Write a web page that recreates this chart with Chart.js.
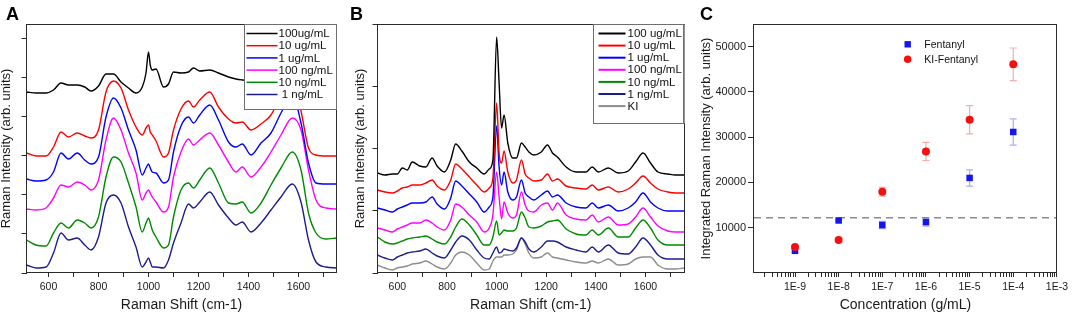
<!DOCTYPE html>
<html lang="en">
<head>
<meta charset="UTF-8">
<title>SERS spectra of fentanyl and integrated intensity</title>
<script src="https://cdn.jsdelivr.net/npm/chart.js"></script>
<style>
    html, body { margin: 0; padding: 0; background: #fff; }
    #wrap { position: relative; width: 1072px; height: 317px; overflow: hidden; background: #fff; }
    canvas { position: absolute; top: 0; }
</style>
</head>
<body>
<div id="wrap">
    <canvas id="chartA" width="345" height="317" style="left:0px"></canvas>
    <canvas id="chartB" width="353" height="317" style="left:345px"></canvas>
    <canvas id="chartC" width="374" height="317" style="left:698px"></canvas>
</div>
<script>
// ---------- panel A: spectra of fentanyl dilutions (offset, arb. units) ----------
const shiftA = [512, 550, 590, 620, 650, 680, 715, 745, 770, 800, 830, 860, 890, 920, 950, 975, 990, 1000, 1007, 1015,
    1030, 1060, 1080, 1100, 1130, 1160, 1180, 1205, 1245, 1280, 1320, 1350, 1375, 1410, 1450, 1490, 1530, 1575, 1610,
    1640, 1670, 1710, 1752];
const a100ug = [181, 180, 180, 183, 190, 188, 188, 186, 182, 187, 199, 199, 191, 185, 180, 186, 200, 221, 208, 203,
    204, 186, 189, 201, 200, 201, 205, 202, 203, 200, 196, 194, 193, 192, 191, 193, 197, 205, 200, 190, 188, 188, 188];
const a10ug = [120, 117, 117, 126, 141, 136, 140, 137, 135, 143, 181, 192, 185, 163, 146, 138, 145, 148, 141, 138,
    132, 116, 120, 143, 164, 172, 166, 173, 181, 166, 154, 150, 151, 143, 149, 158, 178, 195, 162, 125, 118, 117, 117];
const a1ug = [94, 92, 93, 101, 120, 114, 120, 113, 109, 116, 156, 175, 165, 143, 123, 98, 105, 109, 105, 101,
    100, 90, 93, 121, 147, 156, 150, 158, 168, 153, 131, 126, 129, 118, 130, 140, 160, 178, 150, 110, 90, 89, 89];
const a100ng = [64, 63, 65, 75, 88, 86, 91, 88, 83, 93, 133, 155, 143, 120, 100, 73, 80, 83, 80, 76,
    71, 61, 66, 96, 121, 134, 128, 133, 140, 128, 111, 101, 106, 96, 106, 121, 138, 155, 143, 103, 73, 65, 64];
const a10ng = [33, 28, 27, 40, 50, 45, 53, 50, 45, 56, 96, 116, 111, 90, 66, 41, 50, 55, 50, 43,
    36, 25, 28, 56, 83, 90, 85, 93, 105, 90, 70, 69, 71, 60, 70, 88, 105, 121, 103, 60, 40, 34, 35];
const a1ng = [8, 5, 6, 20, 40, 33, 35, 28, 23, 36, 70, 78, 70, 46, 26, 6, 11, 15, 11, 6,
    6, 5, 13, 30, 50, 69, 65, 71, 81, 68, 55, 48, 51, 41, 50, 63, 76, 89, 71, 33, 11, 6, 5];
const labelsA = ['100ug/mL', '10 ug/mL', '1 ug/mL', '100 ng/mL', '10 ng/mL', ' 1 ng/mL'];

// ---------- panel B: spectra with KI added ----------
const shiftB = [520, 550, 580, 600, 620, 640, 660, 690, 715, 740, 760, 790, 815, 835, 860, 890, 920, 950, 970, 985,
    1000, 1010, 1020, 1030, 1045, 1065, 1080, 1100, 1115, 1130, 1150, 1180, 1205, 1225, 1245, 1280, 1320, 1360, 1385,
    1410, 1450, 1490, 1530, 1560, 1590, 1620, 1650, 1690, 1720, 1755];
const b100ug = [100, 98, 99, 99, 105, 103, 111, 107, 106, 115, 107, 101, 113, 129, 122, 111, 105, 99, 104, 113,
    236, 190, 145, 158, 130, 115, 115, 130, 126, 121, 118, 121, 128, 120, 116, 106, 101, 101, 106,
    101, 105, 100, 102, 111, 120, 110, 101, 99, 98, 98];
const b10ug = [83, 81, 80, 82, 85, 86, 88, 88, 90, 93, 87, 83, 93, 109, 104, 96, 88, 81, 85, 95,
    170, 120, 110, 122, 101, 90, 93, 113, 99, 95, 92, 93, 99, 92, 94, 87, 85, 84, 88,
    83, 86, 81, 84, 90, 97, 90, 84, 81, 80, 80];
const b1ug = [65, 63, 61, 64, 66, 68, 70, 70, 71, 76, 69, 64, 75, 92, 87, 79, 71, 61, 66, 76,
    147, 106, 88, 101, 81, 73, 76, 93, 80, 76, 73, 78, 82, 76, 78, 70, 66, 65, 70,
    65, 68, 62, 65, 71, 80, 71, 65, 62, 62, 62];
const b100ng = [45, 43, 41, 44, 46, 48, 50, 50, 53, 50, 46, 43, 53, 69, 66, 58, 51, 41, 45, 58,
    101, 76, 54, 71, 60, 55, 58, 81, 68, 62, 61, 68, 70, 63, 70, 58, 54, 53, 58,
    51, 56, 48, 49, 56, 65, 56, 47, 42, 41, 41];
const b10ng = [36, 31, 29, 30, 32, 34, 35, 36, 37, 34, 31, 29, 36, 46, 54, 48, 38, 28, 28, 36,
    52, 38, 40, 43, 42, 42, 45, 61, 55, 46, 45, 47, 51, 52, 53, 44, 39, 38, 43,
    38, 45, 36, 36, 45, 53, 45, 33, 28, 28, 28];
const b1ng = [18, 15, 13, 16, 18, 20, 21, 22, 24, 20, 17, 15, 23, 31, 37, 33, 23, 15, 14, 20,
    26, 20, 21, 24, 23, 22, 25, 35, 31, 24, 21, 26, 32, 32, 31, 26, 23, 21, 26,
    21, 28, 20, 19, 26, 35, 28, 18, 14, 14, 14];
const bKI = [8, 5, 3, 5, 6, 7, 9, 10, 12, 9, 6, 4, 10, 18, 21, 18, 10, 3, 4, 12,
    16, 16, 16, 18, 18, 19, 23, 35, 29, 20, 15, 16, 20, 16, 15, 13, 11, 10, 12,
    10, 14, 8, 9, 14, 16, 16, 8, 4, 4, 5];
const labelsB = ['100 ug/mL', '10 ug/mL', '1 ug/mL', '100 ng/mL', '10 ng/mL', '1 ng/mL', 'KI'];

// ---------- panel C: integrated intensity vs concentration ----------
const conc = [1e-9, 1e-8, 1e-7, 1e-6, 1e-5, 1e-4];
const fentanyl = [4900, 11600, 10600, 11250, 21000, 31150];
const fentanylErr = [350, 200, 800, 900, 1800, 2900];
const kiFentanyl = [5750, 7300, 17950, 26850, 33850, 46100];
const kiFentanylErr = [300, 200, 950, 2000, 3100, 3600];
const threshold = 12200;

// ticks
const shiftTicks = [600, 700, 800, 900, 1000, 1100, 1200, 1300, 1400, 1500, 1600, 1700];
const yTicksA = [0, 39.1, 78.2, 117.3, 156.4, 195.5, 234.6];
const yTicksB = [0, 62.25, 124.5, 186.75, 249];
const intensityTicks = [10000, 20000, 30000, 40000, 50000];
const concDecades = [1e-10, 1e-9, 1e-8, 1e-7, 1e-6, 1e-5, 1e-4];

const specColors = ['#000000', '#ff0000', '#0000ff', '#ff00ff', '#008a00', '#1c1c8e', '#8c8c8c'];
const FONT = 'Liberation Sans, Arial, sans-serif';
Chart.defaults.font.family = FONT;
Chart.defaults.color = '#1a1a1a';

// frame + panel letter + boxed legend drawn over the data
const framePlugin = {
    id: 'framePlugin',
    afterDatasetsDraw(chart, args, o) {
        const ctx = chart.ctx, ca = chart.chartArea;
        ctx.save();
        ctx.strokeStyle = '#2a2a2a';
        ctx.lineWidth = 1;
        ctx.strokeRect(Math.round(ca.left) - 0.5, Math.round(ca.top) + 0.5,
            Math.round(ca.right - ca.left), Math.round(ca.bottom - ca.top) - 1);

        if (o.boxW) {
            const bx = Math.round(ca.right - o.boxW) + 0.5, by = Math.round(ca.top) + 0.5;
            ctx.fillStyle = '#fff';
            ctx.fillRect(bx, by, o.boxW, o.boxH);
            ctx.strokeStyle = '#6e6e6e';
            ctx.strokeRect(bx, by, o.boxW - 1, o.boxH);
            ctx.font = o.fontSize + 'px ' + FONT;
            ctx.textBaseline = 'middle';
            chart.data.datasets.forEach((ds, i) => {
                const y = ca.top + o.rowTop + i * o.rowGap;
                ctx.strokeStyle = ds.borderColor;
                ctx.lineWidth = o.lineW;
                ctx.beginPath();
                ctx.moveTo(bx + o.lineX0, y);
                ctx.lineTo(bx + o.lineX1, y);
                ctx.stroke();
                ctx.fillStyle = '#111';
                ctx.fillText(ds.label, bx + o.textX, y + 0.5);
            });
        }
        ctx.restore();
    },
    afterDraw(chart, args, o) {
        const ctx = chart.ctx;
        ctx.save();
        ctx.font = 'bold 18px ' + FONT;
        ctx.fillStyle = '#000';
        ctx.textBaseline = 'alphabetic';
        ctx.fillText(o.tag, o.tagX, o.tagY);
        ctx.restore();
    }
};

function spectraChart(id, shift, series, labels, yTicks, xMin, xMax, yW, yTitlePad, padRight, tag, tagX, legend) {
    const datasets = series.map((s, i) => ({
        label: labels[i],
        data: shift.map((x, j) => ({ x: x, y: s[j] })),
        borderColor: specColors[i],
        borderWidth: 1.4,
        pointRadius: 0,
        fill: false,
        cubicInterpolationMode: 'monotone'
    }));
    return new Chart(document.getElementById(id), {
        type: 'line',
        data: { datasets: datasets },
        plugins: [framePlugin],
        options: {
            responsive: false,
            animation: false,
            devicePixelRatio: 1,
            events: [],
            layout: { padding: { top: 24, right: padRight, bottom: 0, left: 0 } },
            plugins: {
                legend: { display: false },
                tooltip: { enabled: false },
                framePlugin: Object.assign({ tag: tag, tagX: tagX, tagY: 20 }, legend)
            },
            scales: {
                x: {
                    type: 'linear', min: xMin, max: xMax,
                    afterBuildTicks: s => { s.ticks = shiftTicks.map(v => ({ value: v })); },
                    afterFit: s => { s.height = 44; },
                    ticks: {
                        autoSkip: false, maxRotation: 0, padding: 4,
                        font: { size: 10.5 },
                        callback: v => (v % 200 === 0 ? String(v) : '')
                    },
                    grid: { drawOnChartArea: false, tickLength: 4, tickColor: '#2a2a2a' },
                    border: { display: false },
                    title: {
                        display: true, text: 'Raman Shift (cm-1)',
                        font: { size: 14 }, padding: { top: 0, bottom: 3 }
                    }
                },
                y: {
                    min: 0, max: 249,
                    afterBuildTicks: s => { s.ticks = yTicks.map(v => ({ value: v })); },
                    afterFit: s => { s.width = yW; },
                    ticks: { display: false },
                    grid: { drawOnChartArea: false, tickLength: 5, tickColor: '#2a2a2a' },
                    border: { display: false },
                    title: {
                        display: true, text: 'Raman Intensity (arb. units)',
                        font: { size: 13, lineHeight: 1 }, padding: { top: yTitlePad, bottom: 0 }
                    }
                }
            }
        }
    });
}

spectraChart('chartA', shiftA, [a100ug, a10ug, a1ug, a100ng, a10ng, a1ng], labelsA, yTicksA,
    512, 1752, 26.5, 0, 8.5, 'A', 6, {
        boxW: 93, boxH: 85, rowTop: 9.5, rowGap: 12.2, lineX0: 2, lineX1: 33, textX: 34, fontSize: 11.5, lineW: 1.5
    });

spectraChart('chartB', shiftB, [b100ug, b10ug, b1ug, b100ng, b10ng, b1ng, bKI], labelsB, yTicksB,
    520, 1755, 32.5, 8.5, 14, 'B', 5, {
        boxW: 91, boxH: 99, rowTop: 9.5, rowGap: 12.1, lineX0: 5, lineX1: 32, textX: 34, fontSize: 11.5, lineW: 2
    });

// ---------- panel C ----------
const cMin = 1.15e-10, cMax = 1e-3;

const errorBars = {
    id: 'errorBars',
    beforeDatasetsDraw(chart) {
        const ctx = chart.ctx, xs = chart.scales.x, ys = chart.scales.y;
        chart.data.datasets.forEach(ds => {
            if (!ds.errors) return;
            ctx.save();
            ctx.strokeStyle = ds.errorColor;
            ctx.lineWidth = 1.2;
            ds.data.forEach((p, j) => {
                const px = xs.getPixelForValue(p.x);
                const t = ys.getPixelForValue(p.y + ds.errors[j]);
                const b = ys.getPixelForValue(p.y - ds.errors[j]);
                ctx.beginPath();
                ctx.moveTo(px, t); ctx.lineTo(px, b);
                ctx.moveTo(px - 3.5, t); ctx.lineTo(px + 3.5, t);
                ctx.moveTo(px - 3.5, b); ctx.lineTo(px + 3.5, b);
                ctx.stroke();
            });
            ctx.restore();
        });
    },
    afterDatasetsDraw(chart) {
        const ctx = chart.ctx, ca = chart.chartArea;
        ctx.save();
        ctx.font = '10.5px ' + FONT;
        ctx.textBaseline = 'middle';
        chart.data.datasets.filter(ds => ds.label).forEach((ds, i) => {
            const x = ca.left + 153.7, y = ca.top + 20.3 + i * 15;
            ctx.fillStyle = ds.backgroundColor;
            ctx.beginPath();
            if (ds.pointStyle === 'rect') ctx.rect(x - 3.2, y - 3.2, 6.4, 6.4);
            else ctx.arc(x, y, 3.8, 0, Math.PI * 2);
            ctx.fill();
            ctx.fillStyle = '#111';
            ctx.fillText(ds.label, ca.left + 170.3, y + 0.5);
        });
        ctx.restore();
    }
};

new Chart(document.getElementById('chartC'), {
    type: 'scatter',
    data: {
        datasets: [
            {
                label: 'Fentanyl',
                data: conc.map((x, i) => ({ x: x, y: fentanyl[i] })),
                pointStyle: 'rect', pointRadius: 4.6,
                backgroundColor: '#1414f5', borderColor: '#1414f5', borderWidth: 0,
                errors: fentanylErr, errorColor: 'rgba(70,70,235,0.45)',
                order: 2
            },
            {
                label: 'KI-Fentanyl',
                data: conc.map((x, i) => ({ x: x, y: kiFentanyl[i] })),
                pointStyle: 'circle', pointRadius: 4,
                backgroundColor: '#f51010', borderColor: '#f51010', borderWidth: 0,
                errors: kiFentanylErr, errorColor: 'rgba(235,70,70,0.45)',
                order: 1
            },
            {
                data: [{ x: cMin, y: threshold }, { x: cMax, y: threshold }],
                showLine: true, pointRadius: 0,
                borderColor: '#8c8c8c', borderWidth: 1.6, borderDash: [7, 5],
                order: 3
            }
        ]
    },
    plugins: [errorBars, framePlugin],
    options: {
        responsive: false,
        animation: false,
        devicePixelRatio: 1,
        events: [],
        layout: { padding: { top: 24, right: 13, bottom: 0, left: 0 } },
        plugins: {
            legend: { display: false },
            tooltip: { enabled: false },
            framePlugin: { tag: 'C', tagX: 2, tagY: 20 }
        },
        scales: {
            x: {
                type: 'logarithmic', min: cMin, max: cMax,
                afterBuildTicks: s => {
                    const t = [];
                    concDecades.forEach(d => {
                        for (let k = 1; k <= 9; k++) {
                            const v = d * k;
                            if (v >= cMin && v <= cMax) t.push({ value: v });
                        }
                    });
                    t.push({ value: cMax });
                    s.ticks = t;
                },
                afterFit: s => { s.height = 44; },
                ticks: {
                    autoSkip: false, maxRotation: 0, padding: 4,
                    font: { size: 10.5 },
                    callback: v => {
                        const k = Math.round(Math.log10(v));
                        return Math.abs(Math.log10(v) - k) < 1e-6 ? '1E' + k : '';
                    }
                },
                grid: { drawOnChartArea: false, tickLength: 4, tickColor: '#2a2a2a' },
                border: { display: false },
                title: {
                    display: true, text: 'Concentration (g/mL)',
                    font: { size: 14 }, padding: { top: 0, bottom: 3 }
                }
            },
            y: {
                min: 0, max: 55000,
                afterBuildTicks: s => { s.ticks = intensityTicks.map(v => ({ value: v })); },
                afterFit: s => { s.width = 56; },
                ticks: { font: { size: 11 }, padding: 2, callback: v => String(v) },
                grid: { drawOnChartArea: false, tickLength: 6, tickColor: '#2a2a2a' },
                border: { display: false },
                title: {
                    display: true, text: 'Integrated Raman Intensity (arb. units)',
                    font: { size: 13, lineHeight: 1 }, padding: { top: 1.5, bottom: 0 }
                }
            }
        }
    }
});
</script>
</body>
</html>
